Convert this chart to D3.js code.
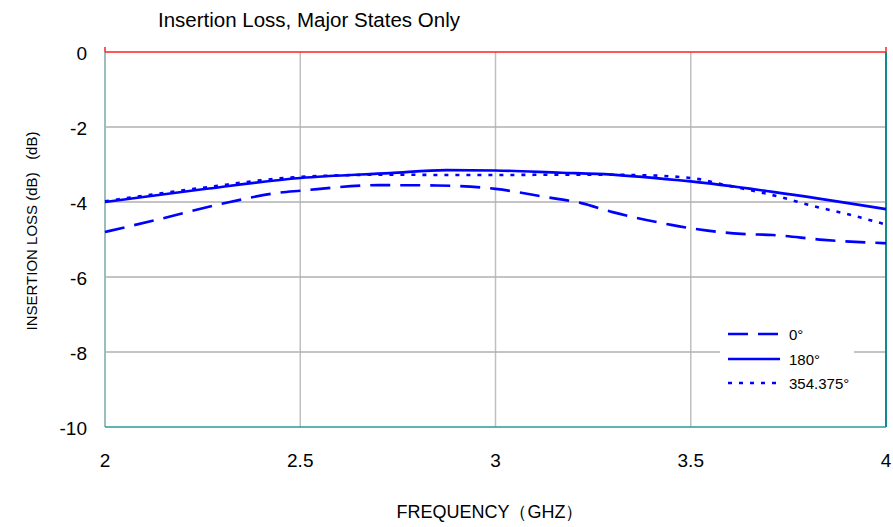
<!DOCTYPE html>
<html>
<head>
<meta charset="utf-8">
<script src="https://cdn.jsdelivr.net/npm/d3@7"></script>
<style>
  body { margin: 0; background: #fff; }
  text { font-family: "Liberation Sans", Arial, sans-serif; fill: #000; }
</style>
</head>
<body>
<svg id="chart" width="893" height="527"></svg>
<script>
// values
var freqTicks = [2, 2.5, 3, 3.5, 4];
var lossTicks = [0, -2, -4, -6, -8, -10];

var freq0 = [2.0, 2.13, 2.32, 2.44, 2.5, 2.7, 2.85, 3.0, 3.13, 3.22, 3.3, 3.45, 3.5, 3.63, 3.71, 3.84, 4.0];
var loss0 = [-4.8, -4.48, -4.0, -3.76, -3.7, -3.55, -3.56, -3.65, -3.87, -4.03, -4.27, -4.61, -4.7, -4.85, -4.88, -5.01, -5.1];

var freq180 = [2.0, 2.25, 2.5, 2.73, 2.875, 3.0, 3.17, 3.26, 3.47, 3.5, 3.71, 4.0];
var loss180 = [-4.0, -3.66, -3.36, -3.23, -3.15, -3.16, -3.22, -3.25, -3.42, -3.45, -3.73, -4.19];

var freq354 = [2.0, 2.25, 2.5, 2.73, 2.875, 3.0, 3.2, 3.35, 3.5, 3.59, 3.73, 3.81, 3.9, 4.0];
var loss354 = [-3.98, -3.62, -3.33, -3.27, -3.28, -3.28, -3.27, -3.28, -3.36, -3.55, -3.87, -4.1, -4.32, -4.6];

var seriesNames = ["0°", "180°", "354.375°"];

var series = [
  { name: seriesNames[0], x: freq0, y: loss0, dash: "20,10" },
  { name: seriesNames[1], x: freq180, y: loss180, dash: null },
  { name: seriesNames[2], x: freq354, y: loss354, dash: "4,7" }
];

var svg = d3.select("#chart");
var plotL = 105, plotR = 886, plotT = 52, plotB = 427;

var x = d3.scaleLinear().domain([2, 4]).range([plotL, plotR]);
var y = d3.scaleLinear().domain([-10, 0]).range([plotB, plotT]);

// grid
svg.append("g").selectAll("line")
  .data(freqTicks.slice(1, -1))
  .join("line")
  .attr("x1", d => x(d)).attr("x2", d => x(d))
  .attr("y1", plotT).attr("y2", plotB)
  .attr("stroke", "#c0c0c0").attr("stroke-width", 1.5);

svg.append("g").selectAll("line")
  .data(lossTicks.slice(1, -1))
  .join("line")
  .attr("x1", plotL).attr("x2", plotR)
  .attr("y1", d => y(d)).attr("y2", d => y(d))
  .attr("stroke", "#b0b0b0").attr("stroke-width", 1.5);

// frame
svg.append("line").attr("x1", plotL).attr("x2", plotL).attr("y1", plotT).attr("y2", plotB)
  .attr("stroke", "#9dbcbc").attr("stroke-width", 2);
svg.append("line").attr("x1", plotR).attr("x2", plotR).attr("y1", plotT).attr("y2", plotB)
  .attr("stroke", "#108a8a").attr("stroke-width", 2);
svg.append("line").attr("x1", plotL).attr("x2", plotR).attr("y1", plotB).attr("y2", plotB)
  .attr("stroke", "#2a9a9a").attr("stroke-width", 1.5);
svg.append("line").attr("x1", plotL).attr("x2", plotR).attr("y1", plotT).attr("y2", plotT)
  .attr("stroke", "#ff2020").attr("stroke-width", 1.5);
svg.append("line").attr("x1", plotL).attr("x2", plotL).attr("y1", plotT - 5).attr("y2", plotT)
  .attr("stroke", "#ff2020").attr("stroke-width", 1.5);
svg.append("line").attr("x1", plotR).attr("x2", plotR).attr("y1", plotT - 5).attr("y2", plotT)
  .attr("stroke", "#ff2020").attr("stroke-width", 1.5);

// legend background hides the grid line
svg.append("rect").attr("x", 720).attr("y", 322).attr("width", 134).attr("height", 72)
  .attr("fill", "#fff");

// series
var line = d3.line()
  .x(d => x(d[0]))
  .y(d => y(d[1]))
  .curve(d3.curveMonotoneX);

svg.append("g").selectAll("path")
  .data(series)
  .join("path")
  .attr("d", s => line(d3.zip(s.x, s.y)))
  .attr("fill", "none")
  .attr("stroke", "#0000ff")
  .attr("stroke-width", 2.6)
  .attr("stroke-dasharray", s => s.dash);

// tick labels
svg.append("g").selectAll("text")
  .data(lossTicks)
  .join("text")
  .attr("x", 87).attr("y", d => y(d) + 8)
  .attr("text-anchor", "end")
  .style("font-size", "19px")
  .text(d => d);

svg.append("g").selectAll("text")
  .data(freqTicks)
  .join("text")
  .attr("x", d => x(d)).attr("y", 467)
  .attr("text-anchor", "middle")
  .style("font-size", "19px")
  .text(d => d);

// titles
svg.append("text").attr("x", 158).attr("y", 27)
  .style("font-size", "20.5px")
  .text("Insertion Loss, Major States Only");

svg.append("text").attr("x", 490).attr("y", 518)
  .attr("text-anchor", "middle")
  .style("font-size", "18px")
  .text("FREQUENCY\uFF08GHZ\uFF09");

svg.append("text")
  .attr("transform", "translate(37,231) rotate(-90)")
  .attr("text-anchor", "middle")
  .style("font-size", "15px")
  .text("INSERTION LOSS (dB)\u00a0\u00a0\u00a0(dB)");

// legend
var leg = svg.append("g").selectAll("g")
  .data(series)
  .join("g")
  .attr("transform", (s, i) => "translate(728," + [334, 359, 383][i] + ")");

leg.append("line")
  .attr("x1", 0).attr("x2", 52)
  .attr("stroke", "#0000ff").attr("stroke-width", 2.6)
  .attr("stroke-dasharray", s => s.dash);

leg.append("text")
  .attr("x", 61).attr("y", 6)
  .style("font-size", "15px")
  .text(s => s.name);
</script>
</body>
</html>
